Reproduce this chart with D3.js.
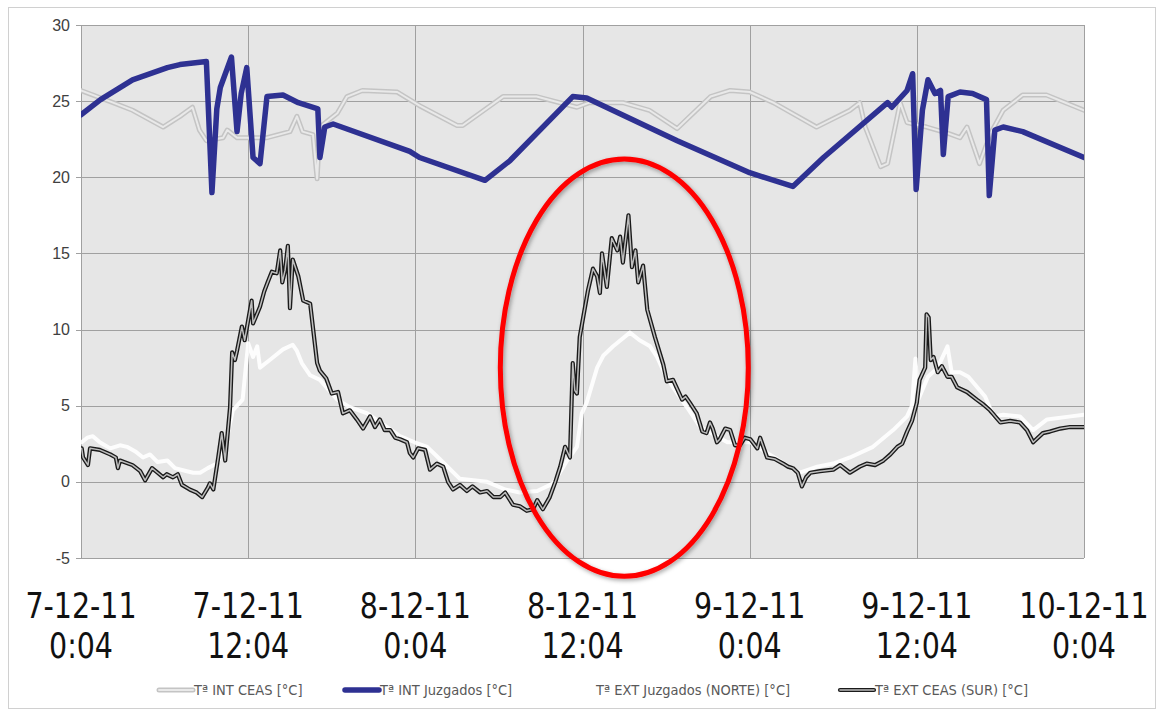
<!DOCTYPE html>
<html>
<head>
<meta charset="utf-8">
<script src="https://cdn.jsdelivr.net/npm/d3@7"></script>
<style>
  body { margin: 0; background: #fff; }
  svg { display: block; }
</style>
</head>
<body>
<div id="chart"></div>
<script>
// hours since 7-12-11 0:04, temperature in °C
var intCeas = [[0,25.7],[2.3,24.9],[3.7,24.4],[5.9,23.3],[7.1,24.0],[8.0,24.6],[8.5,23.1],[9.0,22.4],[10.2,22.6],[10.5,23.1],
  [11.2,22.6],[13.35,22.6],[15.0,23.0],[15.5,24.0],[15.9,23.0],[16.65,22.8],[16.95,19.9],[17.15,23.3],[18.4,24.2],[19.1,25.3],
  [20.2,25.7],[22.7,25.6],[24.3,24.7],[27.0,23.4],[27.4,23.4],[30.3,25.3],[32.7,25.3],[35.6,24.6],[36.5,24.9],[38.9,24.9],
  [40.8,24.4],[42.8,23.2],[45.2,25.3],[46.6,25.7],[48.0,25.6],[49.7,24.9],[52.8,23.3],[55.2,24.4],[55.9,24.9],[56.3,23.3],
  [57.4,20.7],[57.9,20.9],[58.6,24.0],[58.8,24.9],[59.3,23.6],[60.7,23.3],[62.2,22.9],[63.1,22.6],[63.6,23.3],[64.5,20.9],
  [65.3,22.9],[66.2,24.4],[67.6,25.4],[69.3,25.4],[72,24.4]];

var intJuzgados = [[0,24.1],[1.4,25.1],[3.7,26.4],[6.2,27.2],[7.1,27.4],[9.0,27.6],[9.4,19.0],[9.75,24.5],[10.0,25.9],[10.8,27.9],
  [11.2,23.0],[11.5,25.5],[11.9,27.2],[12.35,21.3],[12.85,20.9],[13.35,25.3],[14.5,25.4],[15.6,24.9],[17.0,24.5],[17.15,21.3],
  [17.5,23.3],[18.1,23.5],[23.6,21.7],[24.3,21.3],[29.0,19.8],[30.8,21.1],[35.3,25.3],[36.3,25.2],[42.8,22.4],[48.0,20.3],
  [51.1,19.4],[53.3,21.3],[57.9,24.9],[58.2,24.6],[59.3,25.7],[59.7,26.8],[59.95,19.2],[60.4,24.4],[60.8,26.4],[61.3,25.5],
  [61.7,25.7],[61.9,21.5],[62.25,25.3],[63.1,25.6],[64.0,25.5],[65.0,25.1],[65.2,18.8],[65.6,23.1],[66.2,23.3],[67.6,23.0],
  [72,21.3]];

var extJuzgados = [[0.05,2.6],[0.45,2.9],[0.85,3.0],[1.35,2.6],[2.1,2.2],[2.8,2.4],[3.3,2.3],[3.9,2.0],[4.45,1.6],[4.95,1.8],
  [5.5,1.3],[6.2,1.4],[6.75,0.9],[7.6,0.7],[8.05,0.6],[8.55,0.6],[9.1,0.9],[9.75,1.2],[10.2,2.0],[10.55,3.2],[10.9,4.7],
  [11.6,5.4],[12.0,9.1],[12.35,8.2],[12.65,8.9],[12.85,7.5],[13.55,8.0],[14.5,8.7],[15.2,9.0],[15.5,8.6],[15.85,7.8],
  [16.45,7.0],[17.15,6.7],[18.4,5.4],[19.3,4.9],[20.55,4.5],[21.8,3.7],[22.9,3.0],[23.95,2.6],[24.85,2.3],[25.75,1.5],
  [27.2,0.2],[29.15,0.0],[30.45,-0.5],[31.5,-0.7],[32.75,-0.6],[33.9,-0.1],[34.9,1.4],[35.6,2.3],[35.95,4.5],[36.3,5.2],
  [37.05,7.5],[37.5,8.3],[38.2,8.9],[39.4,9.8],[40.1,9.3],[40.85,8.9],[41.35,8.2],[41.8,7.3],[42.5,6.2],[43.5,4.9],
  [44.45,3.6],[46.4,2.6],[48.05,2.6],[49.25,1.9],[50.5,1.2],[51.6,0.6],[52.85,1.0],[54.0,1.2],[55.2,1.6],[56.85,2.3],
  [58.3,3.4],[59.3,4.3],[59.65,5.0],[59.9,8.1],[60.1,5.4],[60.8,6.9],[61.5,7.5],[62.2,8.9],[62.5,7.2],[63.1,7.2],
  [63.7,6.9],[64.9,5.6],[65.5,4.3],[66.2,4.4],[67.4,4.3],[68.35,3.4],[69.35,4.1],[71.05,4.3],[72,4.4]];

var extCeas = [[0.05,2.2],[0.15,1.6],[0.5,1.1],[0.65,2.2],[1.35,2.1],[2.1,1.8],[2.5,1.6],[2.65,0.9],[2.8,1.4],[3.7,1.1],
  [4.25,0.7],[4.6,0.1],[5.1,0.9],[5.5,0.6],[5.9,0.3],[6.15,0.5],[6.6,0.3],[6.95,0.5],[7.25,-0.2],[7.8,-0.5],[8.3,-0.7],
  [8.7,-1.0],[9.1,-0.4],[9.25,-0.1],[9.5,-0.5],[9.85,1.6],[10.1,3.2],[10.35,1.4],[10.7,4.9],[10.85,8.5],[11.05,8.0],
  [11.2,8.6],[11.55,10.2],[11.75,9.3],[12.25,11.9],[12.35,10.4],[12.85,11.5],[13.15,12.5],[13.4,13.1],[13.7,13.8],
  [14.05,13.7],[14.3,15.2],[14.45,13.1],[14.65,13.9],[14.85,15.5],[15.0,11.4],[15.2,14.6],[15.6,13.5],[15.95,11.9],
  [16.45,11.7],[16.95,7.8],[17.15,7.3],[17.6,6.8],[18.0,5.8],[18.45,5.9],[18.8,4.5],[19.3,4.7],[19.8,4.1],[20.25,3.5],
  [20.75,4.3],[21.1,3.6],[21.45,4.1],[21.8,3.4],[22.2,3.4],[22.55,2.9],[22.9,2.8],[23.4,2.6],[23.6,1.9],[23.85,1.6],
  [24.2,2.2],[24.7,2.1],[25.05,0.8],[25.55,1.2],[26.0,1.0],[26.35,0.0],[26.7,-0.5],[27.2,-0.2],[27.7,-0.6],[28.1,-0.3],
  [28.65,-0.7],[29.15,-0.6],[29.6,-1.0],[30.1,-1.0],[30.45,-0.7],[31.0,-1.5],[31.5,-1.6],[32.0,-1.9],[32.45,-1.8],
  [32.75,-1.2],[33.15,-1.8],[33.65,-1.0],[34.05,0.0],[34.4,1.0],[34.75,2.3],[35.1,1.6],[35.3,7.8],[35.45,6.0],[35.6,5.8],
  [35.8,9.5],[36.05,10.8],[36.4,12.6],[36.75,14.0],[37.05,13.5],[37.25,12.4],[37.4,15.0],[37.75,12.8],[38.1,16.0],
  [38.5,15.2],[38.7,16.1],[38.9,14.4],[39.3,17.5],[39.55,14.1],[39.8,15.2],[40.0,13.1],[40.35,14.2],[40.65,11.3],
  [41.2,9.5],[41.8,7.7],[42.05,6.6],[42.5,6.7],[43.15,5.4],[43.4,5.6],[43.7,5.2],[44.2,4.5],[44.6,3.3],[44.9,3.2],
  [45.15,3.9],[45.35,3.5],[45.65,2.6],[45.85,2.8],[46.25,3.5],[46.6,3.4],[46.95,2.4],[47.3,2.4],[47.65,2.9],[48.05,2.8],
  [48.55,2.2],[48.75,2.9],[49.25,1.6],[49.8,1.5],[50.4,1.2],[50.75,1.0],[51.1,0.9],[51.45,0.6],[51.75,-0.3],[52.05,0.3],
  [52.35,0.6],[53.05,0.7],[54.0,0.8],[54.5,1.1],[55.2,0.6],[55.9,1.0],[56.4,1.2],[57.0,1.1],[57.6,1.4],[58.1,1.8],
  [58.6,2.3],[58.95,2.5],[59.3,3.3],[59.65,4.0],[60.0,5.2],[60.2,6.7],[60.6,7.5],[60.7,11.0],[60.85,10.8],[61.0,8.0],
  [61.2,8.2],[61.5,7.2],[61.8,7.6],[62.2,6.9],[62.5,6.9],[62.9,6.2],[63.6,5.9],[64.3,5.4],[64.75,5.1],[65.25,4.7],
  [66.0,3.9],[66.7,4.0],[67.4,3.9],[67.9,3.4],[68.35,2.6],[69.05,3.2],[69.55,3.3],[70.3,3.5],[71.0,3.6],[72,3.6]];

var yTicks = [-5, 0, 5, 10, 15, 20, 25, 30];
var xTicks = [0, 12, 24, 36, 48, 60, 72];
var xTickLabels = [["7-12-11", "0:04"], ["7-12-11", "12:04"], ["8-12-11", "0:04"], ["8-12-11", "12:04"],
  ["9-12-11", "0:04"], ["9-12-11", "12:04"], ["10-12-11", "0:04"]];
var seriesNames = ["Tª INT CEAS [°C]", "Tª INT Juzgados [°C]", "Tª EXT Juzgados (NORTE) [°C]", "Tª EXT CEAS (SUR) [°C]"];

var W = 1163, H = 715;
var plotL = 81, plotR = 1084, plotT = 25, plotB = 558;
var NARROW = '"Liberation Sans Narrow", "DejaVu Sans Condensed", sans-serif';

// each series drawn as layered strokes (Excel double lines)
var styles = [
  [{c: "#c4c4c4", w: 5}, {c: "#e9e9e9", w: 2}],
  [{c: "#2e3192", w: 5.5}],
  [{c: "rgba(255,255,255,0.9)", w: 4}],
  [{c: "#1a1a1a", w: 4.2}, {c: "#bdbdbd", w: 1.5}]
];
var allSeries = [intCeas, intJuzgados, extJuzgados, extCeas];

var svg = d3.select("#chart").append("svg").attr("width", W).attr("height", H);

svg.append("rect").attr("x", 8.5).attr("y", 7.5).attr("width", 1147).attr("height", 701)
  .attr("fill", "#fff").attr("stroke", "#d0d0d0");

var x = d3.scaleLinear().domain([0, 72]).range([plotL, plotR]);
var y = d3.scaleLinear().domain([-5, 30]).range([plotB, plotT]);

svg.append("rect").attr("x", plotL).attr("y", plotT).attr("width", plotR - plotL).attr("height", plotB - plotT)
  .attr("fill", "#e6e6e6");

svg.append("defs").append("clipPath").attr("id", "clip")
  .append("rect").attr("x", plotL).attr("y", plotT).attr("width", plotR - plotL).attr("height", plotB - plotT);

// grid
svg.append("g").selectAll("line").data(yTicks).enter().append("line")
  .attr("x1", plotL - 5).attr("x2", plotR)
  .attr("y1", function(d) { return Math.round(y(d)) + 0.5; })
  .attr("y2", function(d) { return Math.round(y(d)) + 0.5; })
  .attr("stroke", "#a0a0a0").attr("stroke-width", 1);
svg.append("g").selectAll("line").data(xTicks).enter().append("line")
  .attr("x1", function(d) { return Math.round(x(d)) + 0.5; })
  .attr("x2", function(d) { return Math.round(x(d)) + 0.5; })
  .attr("y1", plotT).attr("y2", plotB)
  .attr("stroke", "#a0a0a0").attr("stroke-width", 1);

// y labels
svg.append("g").selectAll("text").data(yTicks).enter().append("text")
  .attr("x", plotL - 11).attr("y", function(d) { return y(d) + 5.5; })
  .attr("text-anchor", "end").attr("font-family", "Liberation Sans, Arial, sans-serif")
  .attr("font-size", 16).attr("fill", "#404040")
  .text(function(d) { return d; });

// x labels (squeezed horizontally to mimic the narrow Calibri look)
var xl = svg.append("g").selectAll("g").data(xTicks).enter().append("g")
  .attr("transform", function(d) { return "translate(" + x(d) + ",0) scale(0.88,1)"; })
  .append("text")
  .attr("text-anchor", "middle").attr("font-family", NARROW).attr("font-size", 36).attr("fill", "#111");
xl.append("tspan").attr("x", 0).attr("y", 618)
  .text(function(d, i) { return xTickLabels[i][0]; });
xl.append("tspan").attr("x", 0).attr("y", 658)
  .text(function(d, i) { return xTickLabels[i][1]; });

// lines
var line = d3.line().x(function(d) { return x(d[0]); }).y(function(d) { return y(d[1]); });
var plot = svg.append("g").attr("clip-path", "url(#clip)");
allSeries.forEach(function(s, i) {
  styles[i].forEach(function(st) {
    plot.append("path").datum(s).attr("d", line)
      .attr("fill", "none").attr("stroke", st.c).attr("stroke-width", st.w)
      .attr("stroke-linejoin", "round").attr("stroke-linecap", "round");
  });
});

// red ellipse annotation
var filt = svg.select("defs").append("filter").attr("id", "shadow")
  .attr("x", "-10%").attr("y", "-10%").attr("width", "120%").attr("height", "120%");
filt.append("feDropShadow").attr("dx", 1.5).attr("dy", 2).attr("stdDeviation", 2)
  .attr("flood-color", "#000").attr("flood-opacity", 0.35);
svg.append("ellipse")
  .attr("cx", x(39.0)).attr("cy", y(7.5))
  .attr("rx", x(8.9) - x(0)).attr("ry", y(0) - y(13.7))
  .attr("fill", "none").attr("stroke", "#ff0000").attr("stroke-width", 5)
  .attr("filter", "url(#shadow)");

// legend
var legendX = [157, 343, 559, 838];
var lg = svg.append("g").selectAll("g").data(seriesNames).enter().append("g")
  .attr("transform", function(d, i) { return "translate(" + legendX[i] + ",690)"; });
lg.each(function(d, i) {
  var g = d3.select(this);
  styles[i].forEach(function(st) {
    g.append("line").attr("x1", 2).attr("x2", 36).attr("y1", 0).attr("y2", 0)
      .attr("stroke", st.c).attr("stroke-width", st.w).attr("stroke-linecap", "round");
  });
  g.append("text").attr("x", 37).attr("y", 5).attr("font-family", NARROW)
    .attr("font-size", 14.5).attr("fill", "#595959").text(d);
});
</script>
</body>
</html>
